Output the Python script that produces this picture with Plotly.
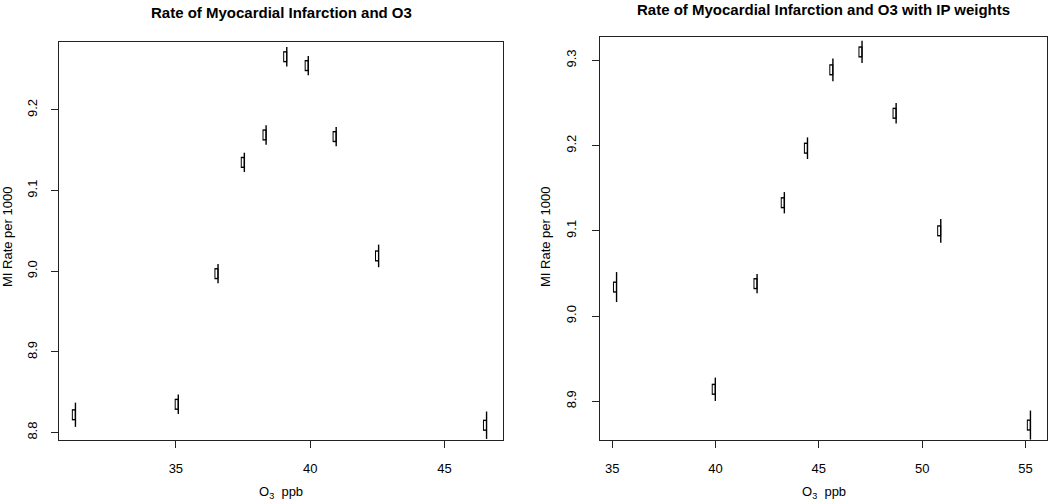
import plotly.graph_objects as go

# ---- data ----
o3_plain = [31.26, 35.09, 36.57, 37.55, 38.36, 39.13, 39.93, 40.97, 42.55, 46.57]
mi_plain = [8.822, 8.835, 8.997, 9.135, 9.169, 9.266, 9.255, 9.167, 9.019, 8.809]
err_plain = [0.015, 0.012, 0.012, 0.012, 0.012, 0.012, 0.012, 0.012, 0.014, 0.017]

o3_ipw = [35.21, 39.99, 42.01, 43.33, 44.45, 45.68, 47.09, 48.74, 50.90, 55.24]
mi_ipw = [9.034, 8.914, 9.038, 9.133, 9.197, 9.289, 9.310, 9.238, 9.100, 8.872]
err_ipw = [0.0176, 0.0137, 0.0114, 0.0125, 0.0127, 0.0133, 0.013, 0.012, 0.014, 0.017]

titles = ["Rate of Myocardial Infarction and O3",
          "Rate of Myocardial Infarction and O3 with IP weights"]
x_ticks = [[35, 40, 45], [35, 40, 45, 50, 55]]
y_ticks = [[8.8, 8.9, 9.0, 9.1, 9.2], [8.9, 9.0, 9.1, 9.2, 9.3]]
y_label = "MI Rate per 1000"
x_label = "O<sub>3</sub>&nbsp; ppb"

W, H = 1050, 500
FONT = "Liberation Sans, Arial, Helvetica, sans-serif"


def padded(v, f=0.04):
    lo, hi = min(v), max(v)
    w = hi - lo
    return [lo - f * w, hi + f * w]


panels = [
    dict(x=o3_plain, y=mi_plain, e=err_plain, xd=[59 / W, 503 / W], yd=[0.12, 1 - 42 / H]),
    dict(x=o3_ipw, y=mi_ipw, e=err_ipw, xd=[600 / W, 1047 / W], yd=[0.12, 1 - 37 / H]),
]

fig = go.Figure()
layout = dict(
    width=W, height=H,
    margin=dict(l=0, r=0, t=0, b=0),
    paper_bgcolor="white", plot_bgcolor="white",
    showlegend=False,
    font=dict(family=FONT, size=13, color="black"),
    annotations=[],
)

for i, p in enumerate(panels):
    xr = padded(p["x"])
    yr = padded(p["y"])
    sfx = "" if i == 0 else str(i + 1)
    xa, ya = "x" + sfx, "y" + sfx
    px_w = (p["xd"][1] - p["xd"][0]) * W
    dx = 1.6 * (xr[1] - xr[0]) / px_w
    xm = [v - dx for v in p["x"]]
    # open rectangle marker: black vertical bar with white interior
    fig.add_trace(go.Scatter(x=xm, y=p["y"], mode="markers", xaxis=xa, yaxis=ya,
                             marker=dict(symbol="line-ns-open", size=8, color="black",
                                         line=dict(width=4, color="black")),
                             hoverinfo="skip"))
    fig.add_trace(go.Scatter(x=xm, y=p["y"], mode="markers", xaxis=xa, yaxis=ya,
                             marker=dict(symbol="line-ns-open", size=6, color="white",
                                         line=dict(width=2, color="white")),
                             hoverinfo="skip"))
    fig.add_trace(go.Scatter(x=p["x"], y=p["y"], mode="markers", xaxis=xa, yaxis=ya,
                             marker=dict(size=1, color="rgba(0,0,0,0)"),
                             error_y=dict(type="data", array=p["e"], visible=True,
                                          color="black", thickness=1.4, width=0)))
    axcommon = dict(showline=True, mirror=True, linecolor="#222", linewidth=1,
                    ticks="outside", ticklen=7, tickcolor="#222", tickwidth=1,
                    showgrid=False, zeroline=False,
                    tickfont=dict(family=FONT, size=13, color="black"))
    layout["xaxis" + sfx] = dict(domain=p["xd"], range=xr, anchor=ya,
                                 tickvals=x_ticks[i], ticklabelstandoff=9, **axcommon)
    layout["yaxis" + sfx] = dict(domain=p["yd"], range=yr, anchor=xa,
                                 tickvals=y_ticks[i], tickformat=".1f", tickangle=-90,
                                 ticklabelstandoff=9 if i == 0 else 11, **axcommon)
    cx = (p["xd"][0] + p["xd"][1]) / 2
    title_pos = dict(y=1 - 12 / H, yanchor="middle") if i == 0 else dict(y=1, yanchor="top")
    layout["annotations"] += [
        dict(text="<b>" + titles[i] + "</b>", x=cx, **title_pos,
             xref="paper", yref="paper", showarrow=False, xanchor="center", borderpad=0,
             font=dict(family=FONT, size=15, color="black")),
        dict(text=y_label, x=(7 if i == 0 else 545) / W, y=1 - 237 / H, textangle=-90,
             xref="paper", yref="paper", showarrow=False, xanchor="center", yanchor="middle",
             font=dict(family=FONT, size=13, color="black")),
        dict(text=x_label, x=cx, y=1 - 492 / H,
             xref="paper", yref="paper", showarrow=False, xanchor="center", yanchor="middle",
             font=dict(family=FONT, size=13, color="black")),
    ]

fig.update_layout(**layout)
fig.write_html("out.html", config={"displayModeBar": False},
               post_script="document.body.style.margin='0';document.body.style.overflow='hidden';")
